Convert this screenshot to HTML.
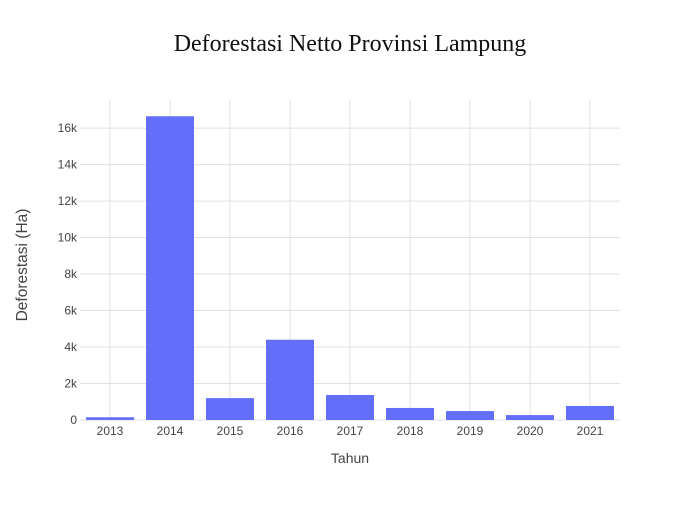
<!DOCTYPE html>
<html><head><meta charset="utf-8"><style>
body{margin:0;background:#fff;}
svg{font-family:"Liberation Sans",Arial,sans-serif;}
</style></head><body>
<svg id="c" width="700" height="500">
<text x="350" y="51" text-anchor="middle" font-family="Liberation Serif, serif" font-size="24" fill="#111">Deforestasi Netto Provinsi Lampung</text>
<g id="grid"></g><g id="bars"></g><g id="ticks"></g>
<text x="350" y="463" text-anchor="middle" font-size="14" fill="#444">Tahun</text>
<text transform="translate(27,265) rotate(-90)" text-anchor="middle" font-size="15.5" fill="#444">Deforestasi (Ha)</text>
</svg>
<script>
const categories=["2013","2014","2015","2016","2017","2018","2019","2020","2021"];
const values=[150,16650,1200,4400,1370,660,490,270,770];
const yTicks=[0,2000,4000,6000,8000,10000,12000,14000,16000];
const yTickLabels=["0","2k","4k","6k","8k","10k","12k","14k","16k"];
const NS="http://www.w3.org/2000/svg";
const x0=80,x1=620,yB=420,yT=100,yMax=17540;
const bw=(x1-x0)/categories.length;
const xs=i=>x0+bw*(i+0.5);
const ys=v=>yB-(v/yMax)*(yB-yT);
function mk(t,a,p){const e=document.createElementNS(NS,t);for(const k in a)e.setAttribute(k,a[k]);p.appendChild(e);return e;}
const g=document.getElementById('grid'),b=document.getElementById('bars'),tk=document.getElementById('ticks');
yTicks.forEach((v,i)=>{
 const l=mk('line',{x1:x0,x2:x1,y1:ys(v),y2:ys(v),stroke:'#e1e1e1'},g);
 
 
 const t=mk('text',{x:x0-3,y:ys(v)+4,'text-anchor':'end','font-size':12,fill:'#444'},tk);
 t.textContent=yTickLabels[i];
 
 
});
categories.forEach((c,i)=>{
 const l=mk('line',{x1:xs(i),x2:xs(i),y1:yT,y2:yB,stroke:'#e1e1e1'},g);
 
 
 const r=mk('rect',{x:xs(i)-bw*0.4,width:bw*0.8,y:ys(values[i]),height:yB-ys(values[i]),fill:'#636efa'},b);
 
 
 const t=mk('text',{x:xs(i),y:yB+15,'text-anchor':'middle','font-size':12,fill:'#444'},tk);
 t.textContent=c;
 
 
});
</script>
</body></html>
